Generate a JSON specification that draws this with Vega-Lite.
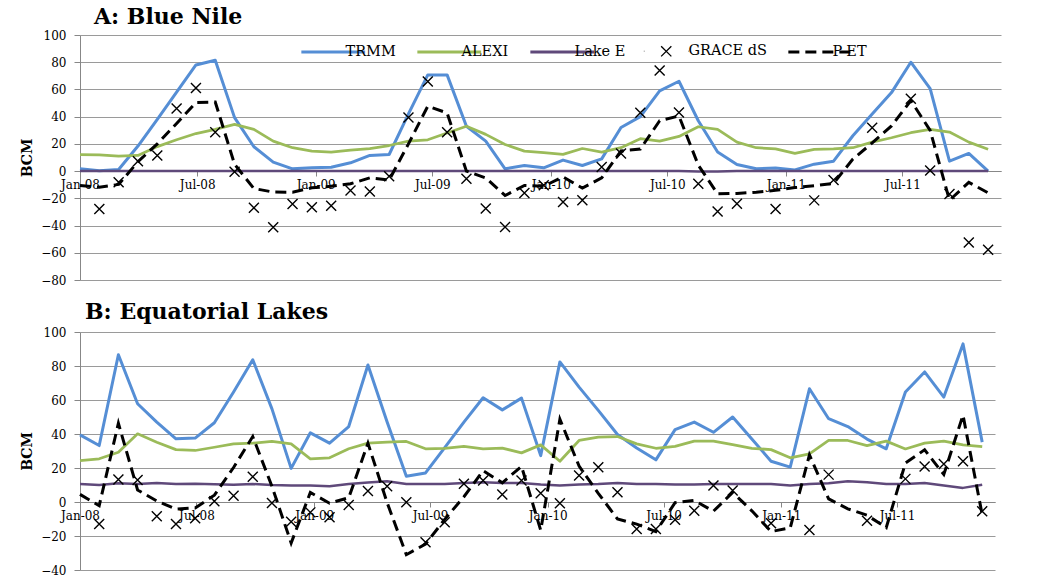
{
  "$schema": "https://vega.github.io/schema/vega-lite/v6.json",
  "background": "white",
  "padding": {"left": 20, "top": 6, "right": 5, "bottom": 0},
  "spacing": 15,
  "config": {
    "font": "DejaVu Serif",
    "view": {"stroke": null},
    "axis": {
      "labelFont": "DejaVu Serif",
      "labelFontSize": 12,
      "labelColor": "#000000",
      "domainColor": "#878787",
      "tickColor": "#878787",
      "gridColor": "#9a9a9a",
      "gridWidth": 1,
      "domainWidth": 1,
      "ticks": true,
      "titleColor": "#000000"
    },
    "title": {
      "font": "DejaVu Serif",
      "fontWeight": "bold",
      "fontSize": 22,
      "color": "#000000",
      "anchor": "start",
      "frame": "group",
      "baseline": "alphabetic"
    }
  },
  "datasets": {
    "blueNile": [
      {"date": "2008-01-01", "TRMM": 1.7, "ALEXI": 12.2, "Lake E": 0, "GRACE dS": null, "P-ET": -10.5},
      {"date": "2008-01-31", "TRMM": 0.2, "ALEXI": 12, "Lake E": 0, "GRACE dS": -27.9, "P-ET": -11.8},
      {"date": "2008-03-01", "TRMM": 1.2, "ALEXI": 11, "Lake E": 0, "GRACE dS": -8.2, "P-ET": -9.8},
      {"date": "2008-03-31", "TRMM": 18.4, "ALEXI": 11.5, "Lake E": 0, "GRACE dS": 7.3, "P-ET": 6.9},
      {"date": "2008-04-30", "TRMM": 38, "ALEXI": 18, "Lake E": 0, "GRACE dS": 11.5, "P-ET": 20},
      {"date": "2008-05-30", "TRMM": 58, "ALEXI": 23, "Lake E": 0, "GRACE dS": 46, "P-ET": 35},
      {"date": "2008-06-29", "TRMM": 78, "ALEXI": 27.6, "Lake E": 0, "GRACE dS": 61, "P-ET": 50.4},
      {"date": "2008-07-29", "TRMM": 81.5, "ALEXI": 30.7, "Lake E": 0, "GRACE dS": 28.6, "P-ET": 50.8},
      {"date": "2008-08-28", "TRMM": 39.3, "ALEXI": 34.3, "Lake E": 0, "GRACE dS": -0.5, "P-ET": 5},
      {"date": "2008-09-27", "TRMM": 17.9, "ALEXI": 30.7, "Lake E": 0, "GRACE dS": -27, "P-ET": -12.8},
      {"date": "2008-10-27", "TRMM": 6.6, "ALEXI": 22, "Lake E": 0, "GRACE dS": -41.3, "P-ET": -15.4},
      {"date": "2008-11-26", "TRMM": 1.7, "ALEXI": 17.2, "Lake E": 0, "GRACE dS": -24.2, "P-ET": -15.5},
      {"date": "2008-12-26", "TRMM": 2.4, "ALEXI": 14.7, "Lake E": 0, "GRACE dS": -26.6, "P-ET": -12.3},
      {"date": "2009-01-25", "TRMM": 2.9, "ALEXI": 14, "Lake E": 0, "GRACE dS": -25.4, "P-ET": -11.1},
      {"date": "2009-02-24", "TRMM": 6.1, "ALEXI": 15.4, "Lake E": 0, "GRACE dS": -14.3, "P-ET": -9.3},
      {"date": "2009-03-26", "TRMM": 11.5, "ALEXI": 16.5, "Lake E": 0, "GRACE dS": -15, "P-ET": -5},
      {"date": "2009-04-25", "TRMM": 12.2, "ALEXI": 18.8, "Lake E": 0, "GRACE dS": -3.8, "P-ET": -6.6},
      {"date": "2009-05-25", "TRMM": 42, "ALEXI": 22, "Lake E": 0, "GRACE dS": 39.3, "P-ET": 20},
      {"date": "2009-06-24", "TRMM": 70.7, "ALEXI": 23, "Lake E": 0, "GRACE dS": 65.8, "P-ET": 47.7},
      {"date": "2009-07-24", "TRMM": 70.7, "ALEXI": 28, "Lake E": 0, "GRACE dS": 28.6, "P-ET": 42.7},
      {"date": "2009-08-23", "TRMM": 33, "ALEXI": 33, "Lake E": 0, "GRACE dS": -5.6, "P-ET": 0},
      {"date": "2009-09-22", "TRMM": 22, "ALEXI": 27, "Lake E": 0, "GRACE dS": -27.5, "P-ET": -5},
      {"date": "2009-10-22", "TRMM": 1.7, "ALEXI": 19.6, "Lake E": 0, "GRACE dS": -41.1, "P-ET": -17.9},
      {"date": "2009-11-21", "TRMM": 4.1, "ALEXI": 14.7, "Lake E": 0, "GRACE dS": -16, "P-ET": -10.6},
      {"date": "2009-12-21", "TRMM": 2.4, "ALEXI": 13.5, "Lake E": 0, "GRACE dS": -10.3, "P-ET": -11.1},
      {"date": "2010-01-20", "TRMM": 8.1, "ALEXI": 12.3, "Lake E": 0, "GRACE dS": -22.7, "P-ET": -4.2},
      {"date": "2010-02-19", "TRMM": 4.1, "ALEXI": 16.6, "Lake E": 0, "GRACE dS": -21.4, "P-ET": -12.5},
      {"date": "2010-03-21", "TRMM": 9, "ALEXI": 14, "Lake E": 0, "GRACE dS": 3.1, "P-ET": -5},
      {"date": "2010-04-20", "TRMM": 32, "ALEXI": 17.2, "Lake E": 0, "GRACE dS": 13, "P-ET": 14.8},
      {"date": "2010-05-20", "TRMM": 40, "ALEXI": 23.8, "Lake E": 0, "GRACE dS": 42.9, "P-ET": 16.2},
      {"date": "2010-06-19", "TRMM": 59, "ALEXI": 22, "Lake E": 0, "GRACE dS": 74, "P-ET": 37},
      {"date": "2010-07-19", "TRMM": 66, "ALEXI": 25.5, "Lake E": 0, "GRACE dS": 43, "P-ET": 40.5},
      {"date": "2010-08-18", "TRMM": 37, "ALEXI": 32.6, "Lake E": -0.3, "GRACE dS": -9.2, "P-ET": 4.4},
      {"date": "2010-09-17", "TRMM": 14, "ALEXI": 30.7, "Lake E": -0.3, "GRACE dS": -29.6, "P-ET": -16.7},
      {"date": "2010-10-17", "TRMM": 4.9, "ALEXI": 21.3, "Lake E": 0, "GRACE dS": -23.9, "P-ET": -16.4},
      {"date": "2010-11-16", "TRMM": 1.7, "ALEXI": 17.2, "Lake E": 0, "GRACE dS": null, "P-ET": -15.5},
      {"date": "2010-12-16", "TRMM": 2.2, "ALEXI": 16.3, "Lake E": 0, "GRACE dS": -27.9, "P-ET": -14.1},
      {"date": "2011-01-15", "TRMM": 0.9, "ALEXI": 13, "Lake E": 0, "GRACE dS": null, "P-ET": -12.1},
      {"date": "2011-02-14", "TRMM": 5.1, "ALEXI": 15.9, "Lake E": 0, "GRACE dS": -21.5, "P-ET": -10.8},
      {"date": "2011-03-16", "TRMM": 7.3, "ALEXI": 16.3, "Lake E": 0, "GRACE dS": -6.6, "P-ET": -9},
      {"date": "2011-04-15", "TRMM": 26, "ALEXI": 17.2, "Lake E": 0, "GRACE dS": null, "P-ET": 8.8},
      {"date": "2011-05-15", "TRMM": 42, "ALEXI": 21.3, "Lake E": 0, "GRACE dS": 31.9, "P-ET": 20.7},
      {"date": "2011-06-14", "TRMM": 57.7, "ALEXI": 24.5, "Lake E": 0, "GRACE dS": null, "P-ET": 33.2},
      {"date": "2011-07-14", "TRMM": 80, "ALEXI": 28.2, "Lake E": 0, "GRACE dS": 53.2, "P-ET": 51.8},
      {"date": "2011-08-13", "TRMM": 60.6, "ALEXI": 30.7, "Lake E": 0, "GRACE dS": 0.4, "P-ET": 29.9},
      {"date": "2011-09-12", "TRMM": 7.3, "ALEXI": 28.7, "Lake E": 0, "GRACE dS": -16.8, "P-ET": -21.4},
      {"date": "2011-10-12", "TRMM": 13, "ALEXI": 21.3, "Lake E": 0, "GRACE dS": -52.4, "P-ET": -8.3},
      {"date": "2011-11-11", "TRMM": 0, "ALEXI": 16, "Lake E": 0, "GRACE dS": -57.8, "P-ET": -16}
    ],
    "equatorialLakes": [
      {"date": "2008-01-01", "TRMM": 39.5, "ALEXI": 24.4, "Lake E": 10.6, "GRACE dS": null, "P-ET": 4.5},
      {"date": "2008-01-31", "TRMM": 33.2, "ALEXI": 25.4, "Lake E": 10, "GRACE dS": -12.9, "P-ET": -2.2},
      {"date": "2008-03-01", "TRMM": 86.6, "ALEXI": 29.3, "Lake E": 11, "GRACE dS": 13.2, "P-ET": 46.3},
      {"date": "2008-03-31", "TRMM": 57.8, "ALEXI": 40.1, "Lake E": 10.6, "GRACE dS": 13, "P-ET": 7.1},
      {"date": "2008-04-30", "TRMM": 47, "ALEXI": 35.2, "Lake E": 11.2, "GRACE dS": -8.4, "P-ET": 0.6},
      {"date": "2008-05-30", "TRMM": 37.2, "ALEXI": 30.8, "Lake E": 10.6, "GRACE dS": -12.9, "P-ET": -4.2},
      {"date": "2008-06-29", "TRMM": 37.6, "ALEXI": 30.3, "Lake E": 10.8, "GRACE dS": -9.6, "P-ET": -3.5},
      {"date": "2008-07-29", "TRMM": 46.6, "ALEXI": 32.2, "Lake E": 10.4, "GRACE dS": 0.4, "P-ET": 4},
      {"date": "2008-08-28", "TRMM": 64.7, "ALEXI": 34.2, "Lake E": 10.2, "GRACE dS": 3.7, "P-ET": 20.3},
      {"date": "2008-09-27", "TRMM": 83.7, "ALEXI": 34.6, "Lake E": 10.6, "GRACE dS": 14.9, "P-ET": 38.5},
      {"date": "2008-10-27", "TRMM": 54.8, "ALEXI": 35.6, "Lake E": 10, "GRACE dS": -0.6, "P-ET": 9.2},
      {"date": "2008-11-26", "TRMM": 19.8, "ALEXI": 34.2, "Lake E": 9.7, "GRACE dS": -11.6, "P-ET": -24.1},
      {"date": "2008-12-26", "TRMM": 40.7, "ALEXI": 25.4, "Lake E": 9.7, "GRACE dS": -6.1, "P-ET": 5.6},
      {"date": "2009-01-25", "TRMM": 34.6, "ALEXI": 26, "Lake E": 9.3, "GRACE dS": -9, "P-ET": -0.7},
      {"date": "2009-02-24", "TRMM": 44.4, "ALEXI": 31.3, "Lake E": 10.6, "GRACE dS": -1.7, "P-ET": 2.5},
      {"date": "2009-03-26", "TRMM": 80.6, "ALEXI": 34.6, "Lake E": 11.4, "GRACE dS": 6.5, "P-ET": 34.6},
      {"date": "2009-04-25", "TRMM": 47, "ALEXI": 35.2, "Lake E": 12.2, "GRACE dS": 9.3, "P-ET": -0.4},
      {"date": "2009-05-25", "TRMM": 15.2, "ALEXI": 35.6, "Lake E": 10.6, "GRACE dS": -0.2, "P-ET": -31},
      {"date": "2009-06-24", "TRMM": 17.1, "ALEXI": 31.3, "Lake E": 10.6, "GRACE dS": -23.7, "P-ET": -24.8},
      {"date": "2009-07-24", "TRMM": 32, "ALEXI": 31.6, "Lake E": 10.6, "GRACE dS": -11.9, "P-ET": -10.2},
      {"date": "2009-08-23", "TRMM": 47, "ALEXI": 32.7, "Lake E": 11.2, "GRACE dS": 10.7, "P-ET": 3.1},
      {"date": "2009-09-22", "TRMM": 61.3, "ALEXI": 31.3, "Lake E": 11.6, "GRACE dS": 12.6, "P-ET": 18.4},
      {"date": "2009-10-22", "TRMM": 54.2, "ALEXI": 31.7, "Lake E": 11.2, "GRACE dS": 4.4, "P-ET": 11.3},
      {"date": "2009-11-21", "TRMM": 61.1, "ALEXI": 28.9, "Lake E": 11.2, "GRACE dS": 12.6, "P-ET": 21},
      {"date": "2009-12-21", "TRMM": 27.3, "ALEXI": 33.6, "Lake E": 10.3, "GRACE dS": 5.1, "P-ET": -16.6},
      {"date": "2010-01-20", "TRMM": 82.4, "ALEXI": 24, "Lake E": 9.7, "GRACE dS": -0.7, "P-ET": 48.7},
      {"date": "2010-02-19", "TRMM": 67.6, "ALEXI": 36.2, "Lake E": 10.3, "GRACE dS": 15.6, "P-ET": 21.1},
      {"date": "2010-03-21", "TRMM": 53.9, "ALEXI": 38.2, "Lake E": 10.6, "GRACE dS": 20.5, "P-ET": 5.1},
      {"date": "2010-04-20", "TRMM": 39.7, "ALEXI": 38.5, "Lake E": 11.2, "GRACE dS": 5.7, "P-ET": -10},
      {"date": "2010-05-20", "TRMM": 31.8, "ALEXI": 34.2, "Lake E": 10.6, "GRACE dS": -15.9, "P-ET": -13},
      {"date": "2010-06-19", "TRMM": 24.8, "ALEXI": 31.6, "Lake E": 10.6, "GRACE dS": -15.9, "P-ET": -17.4},
      {"date": "2010-07-19", "TRMM": 42.6, "ALEXI": 32.7, "Lake E": 10.3, "GRACE dS": -10.4, "P-ET": -0.4},
      {"date": "2010-08-18", "TRMM": 47, "ALEXI": 35.8, "Lake E": 10.3, "GRACE dS": -5.1, "P-ET": 0.9},
      {"date": "2010-09-17", "TRMM": 41, "ALEXI": 35.8, "Lake E": 10.6, "GRACE dS": 9.7, "P-ET": -5.4},
      {"date": "2010-10-17", "TRMM": 50, "ALEXI": 33.8, "Lake E": 10.6, "GRACE dS": 6.7, "P-ET": 5.6},
      {"date": "2010-11-16", "TRMM": 37, "ALEXI": 31.6, "Lake E": 10.6, "GRACE dS": null, "P-ET": -5.2},
      {"date": "2010-12-16", "TRMM": 24, "ALEXI": 30.8, "Lake E": 10.6, "GRACE dS": -12.5, "P-ET": -17.4},
      {"date": "2011-01-15", "TRMM": 20.5, "ALEXI": 26, "Lake E": 9.7, "GRACE dS": null, "P-ET": -15.2},
      {"date": "2011-02-14", "TRMM": 66.6, "ALEXI": 28.3, "Lake E": 10.6, "GRACE dS": -16.5, "P-ET": 27.7},
      {"date": "2011-03-16", "TRMM": 49, "ALEXI": 36.2, "Lake E": 11, "GRACE dS": 16.1, "P-ET": 1.8},
      {"date": "2011-04-15", "TRMM": 44.4, "ALEXI": 36.2, "Lake E": 12.2, "GRACE dS": null, "P-ET": -4},
      {"date": "2011-05-15", "TRMM": 37, "ALEXI": 33.2, "Lake E": 11.6, "GRACE dS": -11, "P-ET": -7.8},
      {"date": "2011-06-14", "TRMM": 31.3, "ALEXI": 35.8, "Lake E": 10.6, "GRACE dS": null, "P-ET": -15.1},
      {"date": "2011-07-14", "TRMM": 64.7, "ALEXI": 31.2, "Lake E": 10.6, "GRACE dS": 13.6, "P-ET": 22.9},
      {"date": "2011-08-13", "TRMM": 76.5, "ALEXI": 34.6, "Lake E": 11.2, "GRACE dS": 20.9, "P-ET": 30.7},
      {"date": "2011-09-12", "TRMM": 61.7, "ALEXI": 35.8, "Lake E": 9.7, "GRACE dS": 22.4, "P-ET": 16.2},
      {"date": "2011-10-12", "TRMM": 93, "ALEXI": 33.6, "Lake E": 8.3, "GRACE dS": 24, "P-ET": 51.1},
      {"date": "2011-11-11", "TRMM": 35.2, "ALEXI": 32.6, "Lake E": 10.1, "GRACE dS": -5.5, "P-ET": -7.5}
    ]
  },
  "resolve": {
    "scale": {"x": "independent", "y": "independent", "color": "independent"},
    "legend": {"color": "independent"}
  },
  "vconcat": [
    {
      "title": {"text": "A: Blue Nile", "dx": 14, "offset": 0},
      "width": 921,
      "height": 245,
      "data": {"name": "blueNile"},
      "transform": [
        {"fold": ["TRMM", "ALEXI", "Lake E", "GRACE dS", "P-ET"], "as": ["series", "value"]}
      ],
      "encoding": {
        "x": {
          "field": "date",
          "type": "temporal",
          "scale": {
            "type": "utc",
            "nice": false,
            "domain": [
              {"year": 2008, "month": 1, "date": 1, "utc": true},
              {"year": 2011, "month": 12, "date": 1, "utc": true}
            ]
          },
          "axis": {
            "title": null,
            "grid": false,
            "offset": -109,
            "labelExpr": "utcFormat(datum.value, '%b-%y')",
            "labelFlush": false,
            "labelOverlap": false,
            "tickSize": 5,
            "labelPadding": 3,
            "values": [
              {"year": 2008, "month": 1, "date": 1, "utc": true},
              {"year": 2008, "month": 7, "date": 1, "utc": true},
              {"year": 2009, "month": 1, "date": 1, "utc": true},
              {"year": 2009, "month": 7, "date": 1, "utc": true},
              {"year": 2010, "month": 1, "date": 1, "utc": true},
              {"year": 2010, "month": 7, "date": 1, "utc": true},
              {"year": 2011, "month": 1, "date": 1, "utc": true},
              {"year": 2011, "month": 7, "date": 1, "utc": true}
            ]
          }
        },
        "y": {
          "field": "value",
          "type": "quantitative",
          "scale": {"domain": [-80, 100], "nice": false, "zero": false},
          "axis": {
            "title": "BCM",
            "titleFont": "DejaVu Serif",
            "titleFontWeight": "bold",
            "titleFontSize": 14,
            "titlePadding": 6,
            "values": [-80, -60, -40, -20, 0, 20, 40, 60, 80, 100],
            "grid": true,
            "tickSize": 6,
            "labelPadding": 8
          }
        }
      },
      "layer": [
        {
          "transform": [{"filter": "datum.series === 'TRMM' || datum.series === 'ALEXI' || datum.series === 'Lake E'"}],
          "mark": {"type": "line", "strokeJoin": "round"},
          "encoding": {
            "color": {
              "field": "series",
              "type": "nominal",
              "scale": {
                "domain": ["TRMM", "ALEXI", "Lake E", "GRACE dS", "P-ET"],
                "range": ["#558ed5", "#9bbb59", "#5f497a", "#000000", "#000000"]
              },
              "legend": {
                "title": null,
                "orient": "none",
                "direction": "horizontal",
                "legendX": 246,
                "legendY": 9,
                "padding": 0,
                "columnPadding": 15,
                "symbolType": "stroke",
                "symbolSize": 4070,
                "symbolStrokeWidth": 3,
                "labelFont": "DejaVu Serif",
                "labelFontSize": 14.5,
                "labelColor": "#000000",
                "labelOffset": 5,
                "encode": {
                  "symbols": {
                    "update": {
                      "shape": {"signal": "datum.value === 'GRACE dS' ? 'M-0.16,-0.16L0.16,0.16M-0.16,0.16L0.16,-0.16M-0.7,0L-0.69,0M0.69,0L0.7,0' : 'stroke'"},
                      "size": {"value": 4070},
                      "strokeDash": {"signal": "datum.value === 'P-ET' ? [11, 6] : []"},
                      "strokeWidth": {"signal": "datum.value === 'GRACE dS' ? 1.3 : 3"},
                      "fill": {"value": "transparent"}
                    }
                  },
                  "labels": {
                    "update": {
                      "dx": {"signal": "datum.value === 'GRACE dS' ? 10 : 0"}
                    }
                  }
                }
              }
            },
            "strokeWidth": {
              "field": "series",
              "type": "nominal",
              "scale": {"domain": ["TRMM", "ALEXI", "Lake E"], "range": [3, 2.5, 2.5]},
              "legend": null
            }
          }
        },
        {
          "transform": [{"filter": "datum.series === 'GRACE dS' && isValid(datum.value)"}],
          "mark": {
            "type": "point",
            "shape": "M-1,-1L1,1M-1,1L1,-1",
            "filled": false,
            "stroke": "#000000",
            "strokeWidth": 1.4,
            "size": 100,
            "opacity": 1
          }
        },
        {
          "transform": [{"filter": "datum.series === 'P-ET'"}],
          "mark": {"type": "line", "strokeDash": [11, 6], "strokeWidth": 3},
          "encoding": {
            "color": {"field": "series", "type": "nominal"}
          }
        }
      ]
    },
    {
      "title": {"text": "B: Equatorial Lakes", "dx": 5, "offset": 2},
      "width": 915,
      "height": 238,
      "data": {"name": "equatorialLakes"},
      "transform": [
        {"fold": ["TRMM", "ALEXI", "Lake E", "GRACE dS", "P-ET"], "as": ["series", "value"]}
      ],
      "encoding": {
        "x": {
          "field": "date",
          "type": "temporal",
          "scale": {
            "type": "utc",
            "nice": false,
            "domain": [
              {"year": 2008, "month": 1, "date": 1, "utc": true},
              {"year": 2011, "month": 12, "date": 1, "utc": true}
            ]
          },
          "axis": {
            "title": null,
            "grid": false,
            "offset": -68,
            "labelExpr": "utcFormat(datum.value, '%b-%y')",
            "labelFlush": false,
            "labelOverlap": false,
            "tickSize": 5,
            "labelPadding": 3,
            "values": [
              {"year": 2008, "month": 1, "date": 1, "utc": true},
              {"year": 2008, "month": 7, "date": 1, "utc": true},
              {"year": 2009, "month": 1, "date": 1, "utc": true},
              {"year": 2009, "month": 7, "date": 1, "utc": true},
              {"year": 2010, "month": 1, "date": 1, "utc": true},
              {"year": 2010, "month": 7, "date": 1, "utc": true},
              {"year": 2011, "month": 1, "date": 1, "utc": true},
              {"year": 2011, "month": 7, "date": 1, "utc": true}
            ]
          }
        },
        "y": {
          "field": "value",
          "type": "quantitative",
          "scale": {"domain": [-40, 100], "nice": false, "zero": false},
          "axis": {
            "title": "BCM",
            "titleFont": "DejaVu Serif",
            "titleFontWeight": "bold",
            "titleFontSize": 14,
            "titlePadding": 6,
            "values": [-40, -20, 0, 20, 40, 60, 80, 100],
            "grid": true,
            "tickSize": 6,
            "labelPadding": 8
          }
        }
      },
      "layer": [
        {
          "transform": [{"filter": "datum.series === 'TRMM' || datum.series === 'ALEXI' || datum.series === 'Lake E'"}],
          "mark": {"type": "line", "strokeJoin": "round"},
          "encoding": {
            "color": {
              "field": "series",
              "type": "nominal",
              "scale": {
                "domain": ["TRMM", "ALEXI", "Lake E", "GRACE dS", "P-ET"],
                "range": ["#558ed5", "#9bbb59", "#5f497a", "#000000", "#000000"]
              },
              "legend": null
            },
            "strokeWidth": {
              "field": "series",
              "type": "nominal",
              "scale": {"domain": ["TRMM", "ALEXI", "Lake E"], "range": [3, 2.5, 2.5]},
              "legend": null
            }
          }
        },
        {
          "transform": [{"filter": "datum.series === 'GRACE dS' && isValid(datum.value)"}],
          "mark": {
            "type": "point",
            "shape": "M-1,-1L1,1M-1,1L1,-1",
            "filled": false,
            "stroke": "#000000",
            "strokeWidth": 1.4,
            "size": 100,
            "opacity": 1
          }
        },
        {
          "transform": [{"filter": "datum.series === 'P-ET'"}],
          "mark": {"type": "line", "strokeDash": [11, 6], "strokeWidth": 3},
          "encoding": {
            "color": {"field": "series", "type": "nominal", "legend": null}
          }
        }
      ]
    }
  ]
}
